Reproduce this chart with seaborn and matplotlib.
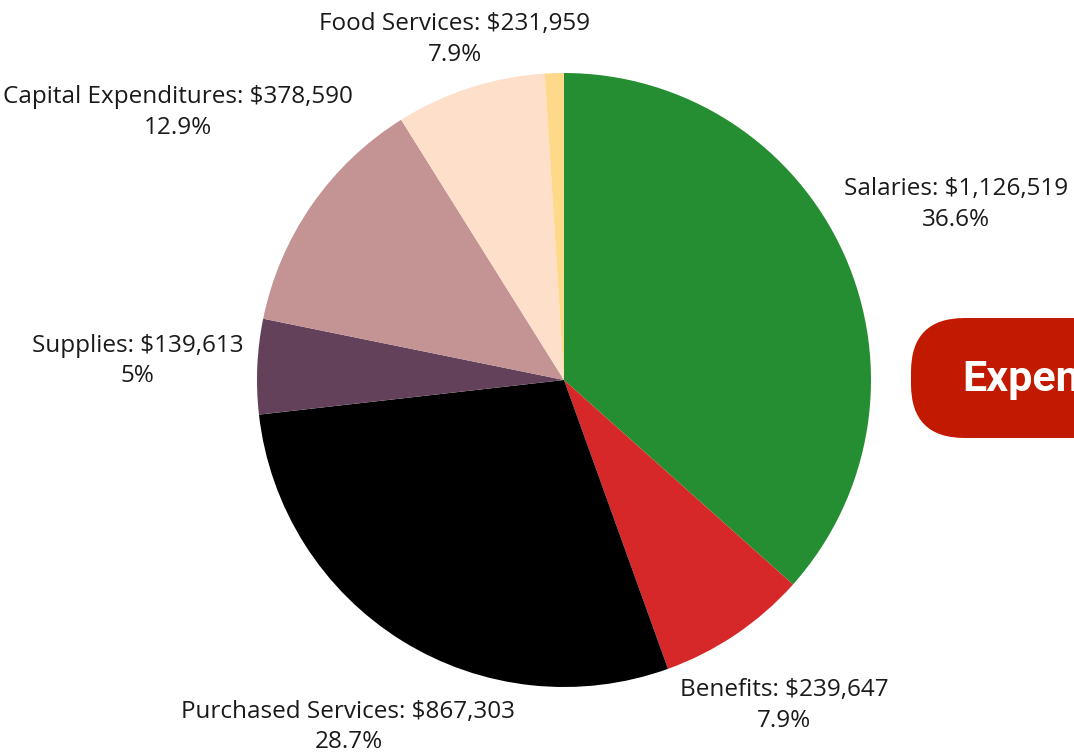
import numpy as np
import matplotlib
matplotlib.use("Agg")
import matplotlib.pyplot as plt
from matplotlib.patches import FancyBboxPatch
import seaborn as sns

sns.set_theme(style="white")
plt.rcParams['font.family'] = ['Open Sans', 'DejaVu Sans']

categories = ["Salaries", "Benefits", "Purchased Services", "Supplies",
              "Capital Expenditures", "Food Services", "Other"]
amounts = [1126519, 239647, 867303, 139613, 378590, 231959, None]
percents = [36.6, 7.9, 28.7, 5.0, 12.9, 7.9, 1.0]
colors = ["#268E32", "#D62828", "#000000", "#63415A", "#C49494", "#FEDFC9", "#FFD98A"]
label_dist = [1.40, 1.28, 1.33, 1.39, 1.53, 1.165, None]
title = "Expenditures"

W, H = 1074, 753
fig = plt.figure(figsize=(W / 100, H / 100), dpi=100)
cx, cy, r = 564, 380, 307
ax = fig.add_axes([(cx - r) / W, (H - cy - r) / H, 2 * r / W, 2 * r / H])
wedges, _ = ax.pie(percents, colors=colors, startangle=90, counterclock=False,
                   radius=1.0, wedgeprops=dict(linewidth=0))
ax.set_xlim(-1, 1)
ax.set_ylim(-1, 1)
ax.set_aspect("equal")
ax.axis("off")

for w, cat, amt, pct, d in zip(wedges, categories, amounts, percents, label_dist):
    if amt is None:
        continue
    mid = np.deg2rad((w.theta1 + w.theta2) / 2)
    x, y = d * np.cos(mid), d * np.sin(mid)
    pct_txt = f"{pct:g}%"
    ax.text(x, y, f"{cat}: ${amt:,}\n{pct_txt}", ha="center", va="center",
            fontsize=17.5, color="#1a1a1a", linespacing=1.36, clip_on=False)

# title badge (partially off-canvas)
bx, by, bw, bh = 911, 318, 400, 120
badge = FancyBboxPatch((bx / W, (H - by - bh) / H), bw / W, bh / H,
                       boxstyle="round,pad=0,rounding_size=0.05",
                       transform=fig.transFigure, facecolor="#C21A00",
                       edgecolor="none", mutation_aspect=W / H)
fig.patches.append(badge)
fig.text(962 / W, (H - 380) / H, title, ha="left", va="center",
         fontsize=31, fontweight="bold", color="white", family=["Roboto", "DejaVu Sans"])

fig.savefig("out.png", dpi=100)
